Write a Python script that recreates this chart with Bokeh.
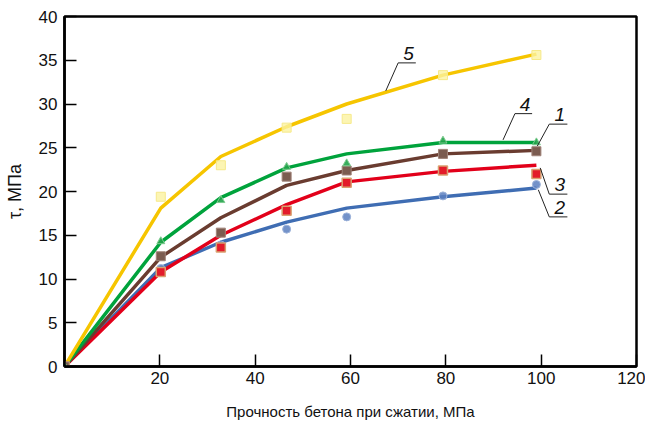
from bokeh.plotting import figure
from bokeh.models import Range1d, FixedTicker, Label
from bokeh.embed import file_html
from bokeh.resources import INLINE

# ---- data ----
x_pts = [0, 20.2, 32.8, 46.6, 59.2, 79.4, 99.0]

fit_5 = [0, 18.1, 24.0, 27.4, 30.0, 33.3, 35.7]
obs_5 = [0, 19.4, 23.0, 27.3, 28.3, 33.3, 35.6]
fit_4 = [0, 14.2, 19.3, 22.7, 24.3, 25.6, 25.6]
obs_4 = [0, 14.3, 19.0, 22.8, 23.2, 25.8, 25.6]
fit_1 = [0, 12.5, 17.0, 20.7, 22.4, 24.3, 24.7]
obs_1 = [0, 12.6, 15.3, 21.7, 22.4, 24.3, 24.6]
fit_3 = [0, 10.8, 15.0, 18.5, 21.1, 22.3, 23.0]
obs_3 = [0, 10.8, 13.6, 17.8, 21.0, 22.4, 22.0]
fit_2 = [0, 11.3, 14.2, 16.5, 18.1, 19.4, 20.4]
obs_2 = [0, 11.2, 13.9, 15.7, 17.1, 19.5, 20.8]

x_ticks = [20, 40, 60, 80, 100, 120]
y_ticks = [0, 5, 10, 15, 20, 25, 30, 35, 40]
x_title = "Прочность бетона при сжатии, МПа"
y_title = "τ, МПа"

# curve callouts: label, underline x0, x1, y, leader end x, y
callouts = [
    ("5", 70.0, 73.7, 34.7, 67.4, 31.5),
    ("4", 94.5, 98.1, 28.9, 92.0, 25.9),
    ("1", 101.7, 105.5, 27.7, 99.2, 25.2),
    ("3", 101.7, 105.5, 19.7, 99.8, 22.7),
    ("2", 101.7, 105.5, 17.1, 99.4, 20.2),
]

FONT = "Liberation Sans"

p = figure(width=645, height=422, output_backend="svg", toolbar_location=None,
           x_range=Range1d(0, 120), y_range=Range1d(0, 40),
           min_border_left=64, min_border_right=9, min_border_top=16, min_border_bottom=55)
p.xgrid.visible = False
p.ygrid.visible = False
p.outline_line_color = "black"
p.outline_line_width = 2.5
p.outline_line_alpha = 1
p.background_fill_color = "white"
p.border_fill_color = "white"

for ax in (p.xaxis[0], p.yaxis[0]):
    ax.axis_line_width = 2.5
    ax.axis_line_color = "black"
    ax.major_tick_in = 12
    ax.major_tick_out = 0
    ax.major_tick_line_width = 1.5
    ax.major_tick_line_color = "black"
    ax.minor_tick_line_color = None
    ax.major_label_text_font = FONT
    ax.major_label_text_font_size = "17px"
    ax.major_label_text_color = "#111111"
    ax.axis_label_text_font = FONT
    ax.axis_label_text_font_style = "normal"
    ax.axis_label_text_color = "#111111"
p.xaxis.ticker = FixedTicker(ticks=x_ticks)
p.yaxis.ticker = FixedTicker(ticks=y_ticks)
p.xaxis.major_label_standoff = 5
p.yaxis.major_label_standoff = 7
p.xaxis.axis_label = x_title
p.yaxis.axis_label = y_title
p.xaxis.axis_label_text_font_size = "15px"
p.yaxis.axis_label_text_font_size = "18px"
p.xaxis.axis_label_standoff = 16
p.yaxis.axis_label_standoff = 11

# fitted curves
p.line(x_pts, fit_2, line_color="#3F6DB3", line_width=3.5)
p.line(x_pts, fit_3, line_color="#E2001A", line_width=3.5)
p.line(x_pts, fit_1, line_color="#6A3C30", line_width=3.5)
p.line(x_pts, fit_4, line_color="#00A33C", line_width=3.5)
p.line(x_pts, fit_5, line_color="#F6C500", line_width=3.5)

# observed points
p.scatter(x_pts, obs_5, marker="square", size=9, fill_color="#FBF2A0", line_color="#F6E98A", fill_alpha=0.8)
p.scatter(x_pts, obs_2, marker="circle", size=8, fill_color="#5B7FC0", line_color="#9DB3DA", fill_alpha=0.85)
p.scatter(x_pts, obs_3, marker="square", size=9, fill_color="#E31B2A", line_color="#D9A070", line_width=1.5)
p.scatter(x_pts, obs_1, marker="square", size=9, fill_color="#7B5C50", line_color="#A08378", line_width=1)
p.scatter(x_pts, obs_4, marker="triangle", size=8, fill_color="#22A34A", line_color="#7CCB8E", fill_alpha=0.9)

# callouts
for lab, ux0, ux1, uy, lx, ly in callouts:
    p.line([ux0, ux1], [uy, uy], line_color="#222222", line_width=1)
    p.line([ux0, lx], [uy, ly], line_color="#222222", line_width=1)
    p.add_layout(Label(x=(ux0 + ux1) / 2 + 0.3, y=uy + 1.05, text=lab, text_align="center",
                       text_baseline="alphabetic", text_font=FONT, text_font_style="italic",
                       text_font_size="19px", text_color="#111111"))

open("out.html", "w").write(file_html(p, INLINE))
